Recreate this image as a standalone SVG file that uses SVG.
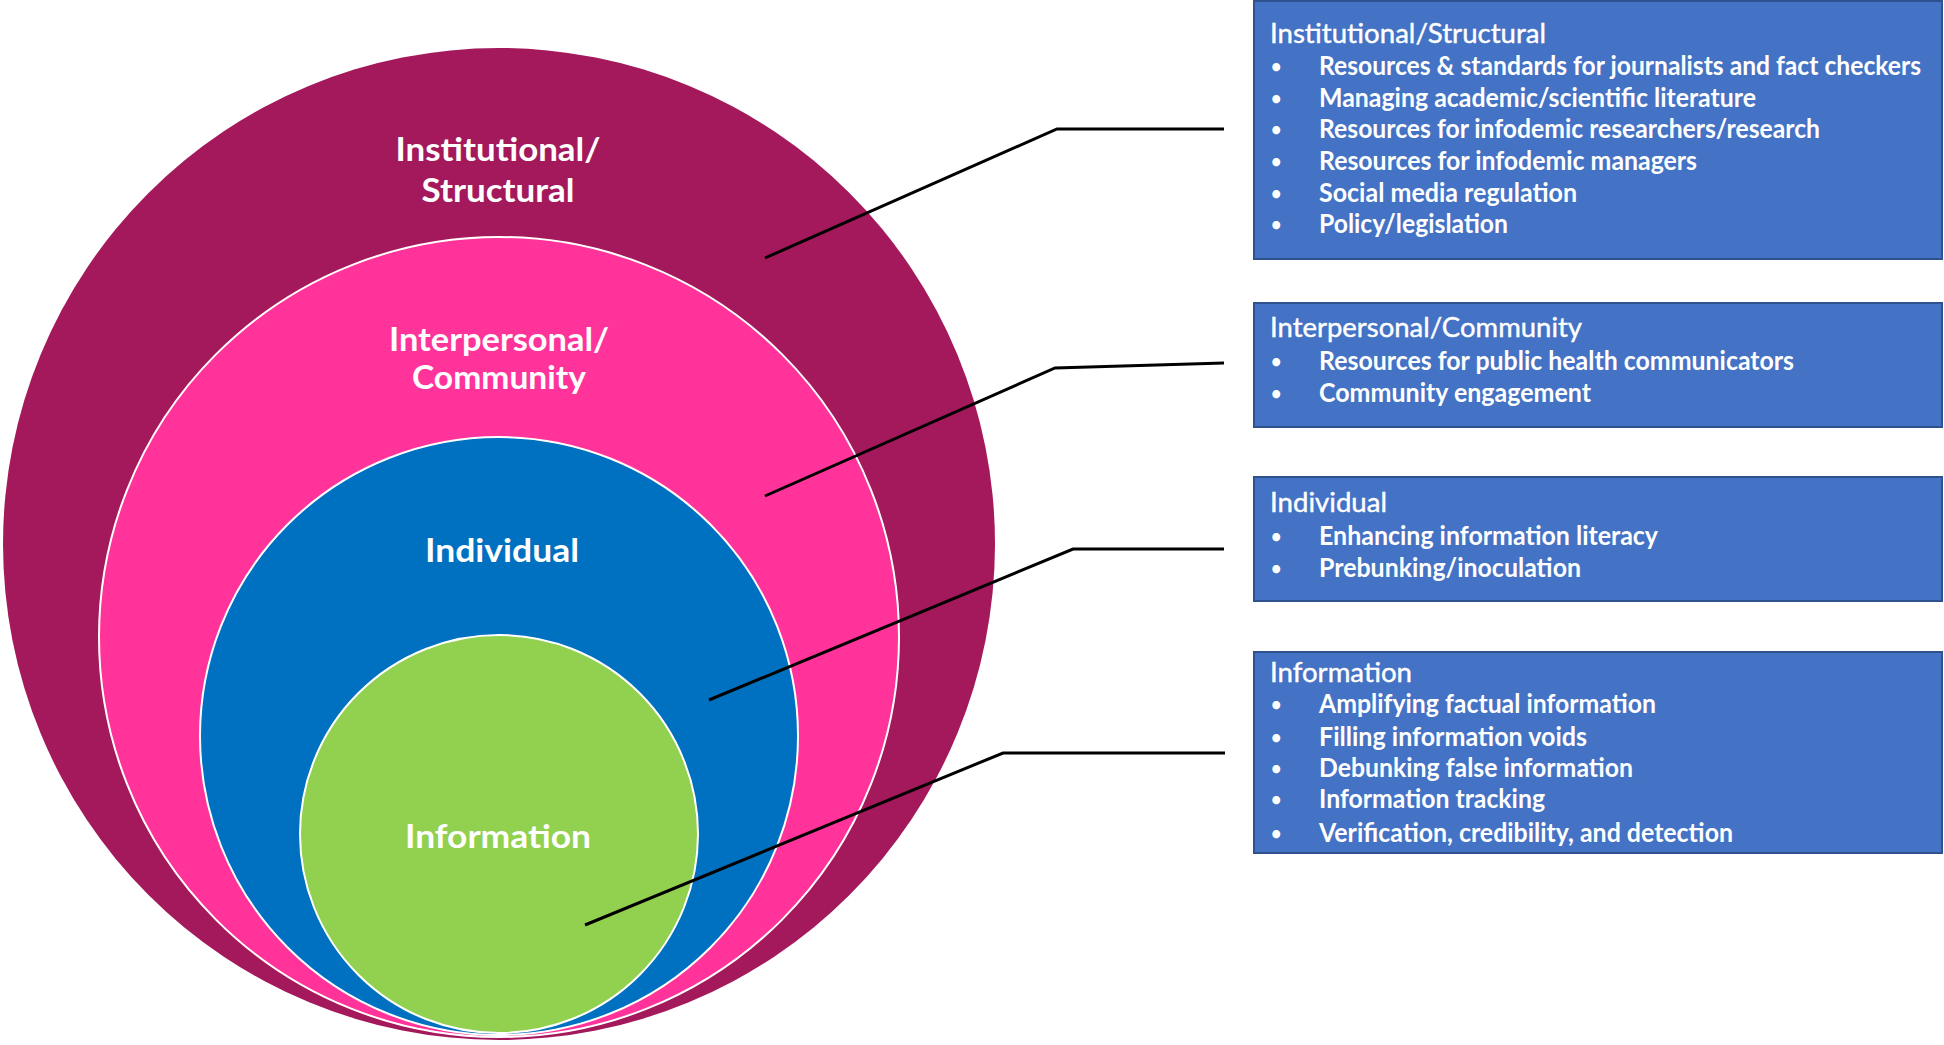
<svg xmlns="http://www.w3.org/2000/svg" width="1944" height="1045" viewBox="0 0 1944 1045">
<style>
.lbl{font-family:Lato,"Open Sans","Liberation Sans",sans-serif;font-weight:700;font-size:33px;fill:#ffffff;text-anchor:middle}
.box{fill:#4472C4;stroke:#2F528F;stroke-width:2}
.ttl{font-family:Lato,"Open Sans","Liberation Sans",sans-serif;font-weight:400;font-size:26px;fill:#ffffff;stroke:#ffffff;stroke-width:0.4}
.itm{font-family:Lato,"Open Sans","Liberation Sans",sans-serif;font-weight:700;font-size:26px;fill:#ffffff}
.bul{font-family:Lato,"Open Sans","Liberation Sans",sans-serif;font-weight:700;font-size:18px;fill:#ffffff}
.ring{stroke:#ffffff;stroke-width:2}
.conn{fill:none;stroke:#000000;stroke-width:3;stroke-linejoin:miter}
</style>
<rect width="1944" height="1045" fill="#ffffff"/>
<g id="circle-institutional">
<circle cx="499" cy="544" r="496" fill="#A3195B"/>
<text class="lbl" x="498" y="161" textLength="205" lengthAdjust="spacingAndGlyphs">Institutional/</text>
<text class="lbl" x="498" y="202" textLength="153" lengthAdjust="spacingAndGlyphs">Structural</text>
</g>
<g id="circle-interpersonal">
<circle class="ring" cx="499" cy="637" r="400" fill="#FF3399"/>
<text class="lbl" x="499" y="351" textLength="220" lengthAdjust="spacingAndGlyphs">Interpersonal/</text>
<text class="lbl" x="499" y="389" textLength="174" lengthAdjust="spacingAndGlyphs">Community</text>
</g>
<g id="circle-individual">
<circle class="ring" cx="499" cy="736" r="299" fill="#0070C0"/>
<text class="lbl" x="502" y="562" textLength="154" lengthAdjust="spacingAndGlyphs">Individual</text>
</g>
<g id="circle-information">
<circle class="ring" cx="499" cy="834" r="199" fill="#92D050"/>
<text class="lbl" x="498" y="848" textLength="186" lengthAdjust="spacingAndGlyphs">Information</text>
</g>
<g id="connectors">
<polyline class="conn" points="765,258 1057,129 1224,129"/>
<polyline class="conn" points="765,496 1055,368 1224,363"/>
<polyline class="conn" points="709,700 1073,549 1224,549"/>
<polyline class="conn" points="585,925 1003,753 1225,753"/>
</g>
<g id="box-institutional">
<rect class="box" x="1254" y="1" width="688" height="258"/>
<text class="ttl" x="1270" y="43" textLength="276" lengthAdjust="spacingAndGlyphs">Institutional/Structural</text>
<text class="bul" x="1271" y="73">•</text><text class="itm" x="1319" y="75" textLength="602" lengthAdjust="spacingAndGlyphs">Resources &amp; standards for journalists and fact checkers</text>
<text class="bul" x="1271" y="105">•</text><text class="itm" x="1319" y="107" textLength="437" lengthAdjust="spacingAndGlyphs">Managing academic/scientific literature</text>
<text class="bul" x="1271" y="136">•</text><text class="itm" x="1319" y="138" textLength="501" lengthAdjust="spacingAndGlyphs">Resources for infodemic researchers/research</text>
<text class="bul" x="1271" y="168">•</text><text class="itm" x="1319" y="170" textLength="378" lengthAdjust="spacingAndGlyphs">Resources for infodemic managers</text>
<text class="bul" x="1271" y="200">•</text><text class="itm" x="1319" y="202" textLength="258" lengthAdjust="spacingAndGlyphs">Social media regulation</text>
<text class="bul" x="1271" y="231">•</text><text class="itm" x="1319" y="233" textLength="189" lengthAdjust="spacingAndGlyphs">Policy/legislation</text>
</g>
<g id="box-interpersonal">
<rect class="box" x="1254" y="303" width="688" height="124"/>
<text class="ttl" x="1270" y="337" textLength="312" lengthAdjust="spacingAndGlyphs">Interpersonal/Community</text>
<text class="bul" x="1271" y="368">•</text><text class="itm" x="1319" y="370" textLength="475" lengthAdjust="spacingAndGlyphs">Resources for public health communicators</text>
<text class="bul" x="1271" y="400">•</text><text class="itm" x="1319" y="402" textLength="272" lengthAdjust="spacingAndGlyphs">Community engagement</text>
</g>
<g id="box-individual">
<rect class="box" x="1254" y="477" width="688" height="124"/>
<text class="ttl" x="1270" y="512" textLength="117" lengthAdjust="spacingAndGlyphs">Individual</text>
<text class="bul" x="1271" y="543">•</text><text class="itm" x="1319" y="545" textLength="339" lengthAdjust="spacingAndGlyphs">Enhancing information literacy</text>
<text class="bul" x="1271" y="575">•</text><text class="itm" x="1319" y="577" textLength="262" lengthAdjust="spacingAndGlyphs">Prebunking/inoculation</text>
</g>
<g id="box-information">
<rect class="box" x="1254" y="652" width="688" height="201"/>
<text class="ttl" x="1270" y="682" textLength="142" lengthAdjust="spacingAndGlyphs">Information</text>
<text class="bul" x="1271" y="711">•</text><text class="itm" x="1319" y="713" textLength="337" lengthAdjust="spacingAndGlyphs">Amplifying factual information</text>
<text class="bul" x="1271" y="744">•</text><text class="itm" x="1319" y="746" textLength="268" lengthAdjust="spacingAndGlyphs">Filling information voids</text>
<text class="bul" x="1271" y="775">•</text><text class="itm" x="1319" y="777" textLength="314" lengthAdjust="spacingAndGlyphs">Debunking false information</text>
<text class="bul" x="1271" y="806">•</text><text class="itm" x="1319" y="808" textLength="226" lengthAdjust="spacingAndGlyphs">Information tracking</text>
<text class="bul" x="1271" y="840">•</text><text class="itm" x="1319" y="842" textLength="414" lengthAdjust="spacingAndGlyphs">Verification, credibility, and detection</text>
</g>
</svg>
